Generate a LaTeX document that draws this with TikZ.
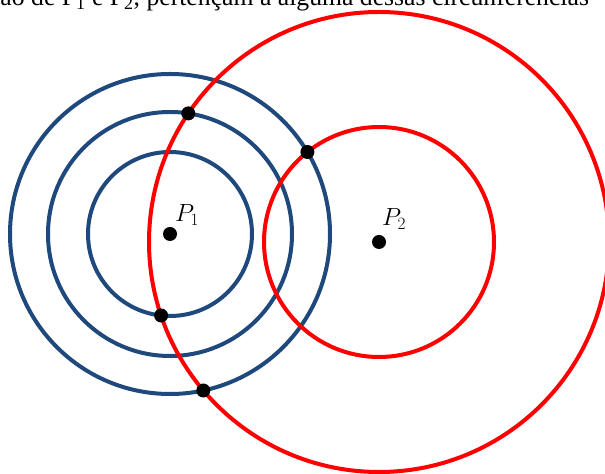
\documentclass[tikz,border=0pt]{standalone}
\usepackage{fontspec}
\newfontfamily\captionfont{Liberation Serif}
\usetikzlibrary{positioning}
\definecolor{circblue}{RGB}{31,73,125}
\definecolor{circred}{RGB}{255,0,0}

\begin{document}
\begin{tikzpicture}[x=1bp, y=1bp, line width=4bp,
  dot/.style={circle, fill=black, inner sep=0pt, minimum size=14bp},
  plabel/.style={anchor=base west, inner sep=0pt, font=\fontsize{23}{27}\selectfont}]
\clip (0,0) rectangle (605,474);

% Caption line (cut off at the top)
\node[anchor=base east, inner sep=0pt, font=\captionfont\fontsize{25.8}{30}\selectfont] (caption) at (591,468)
  {ão de P\textsubscript{1} e P\textsubscript{2}, pertençam a alguma dessas circunferências};

% Centres
\coordinate (c1) at (170,240);
\coordinate (c2) at (379,232);

% Circles around P1
\draw[circblue] (c1) circle (82);
\draw[circblue] (c1) circle (122);
\draw[circblue] (c1) circle (160);

% Circles around P2
\draw[circred] (c2) circle (115);
\draw[circred] (c2) circle (230);

% Points
\node[dot] (p1) at (c1) {};
\node[dot] (p2) at (c2) {};
\node[plabel] (lp1) at ([shift={(3,12)}]p1.center) {$P_1$};
\node[plabel] (lp2) at ([shift={(1,16)}]p2.center) {$P_2$};

% Intersections
\node[dot] (x1) at (188.3,360.6) {};
\node[dot] (x2) at (307.4,322.0) {};
\node[dot] (x3) at (161.1,158.5) {};
\node[dot] (x4) at (203.3,83.5) {};
\end{tikzpicture}
\end{document}
